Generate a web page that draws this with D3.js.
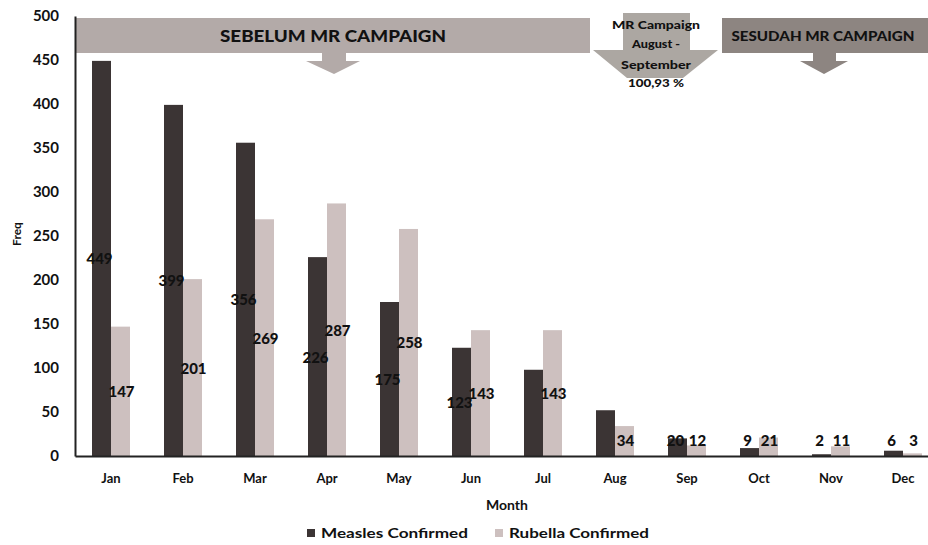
<!DOCTYPE html>
<html>
<head>
<meta charset="utf-8">
<script src="https://cdn.jsdelivr.net/npm/d3@7"></script>
<style>
  html, body { margin: 0; padding: 0; background: #fff; }
  svg { display: block; font-family: Lato, "Open Sans", sans-serif; }
</style>
</head>
<body>
<svg id="chart" width="928" height="545"></svg>
<script>
// Monthly confirmed cases
const months = ["Jan", "Feb", "Mar", "Apr", "May", "Jun", "Jul", "Aug", "Sep", "Oct", "Nov", "Dec"];
const measles = [449, 399, 356, 226, 175, 123, 98, 52, 20, 9, 2, 6];
const rubella = [147, 201, 269, 287, 258, 143, 143, 34, 12, 21, 11, 3];
// value labels printed on the bars (null = not printed)
const measlesLabels = [449, 399, 356, 226, 175, 123, null, null, 20, 9, 2, 6];
const rubellaLabels = [147, 201, 269, 287, 258, 143, 143, 34, 12, 21, 11, 3];
const seriesNames = ["Measles Confirmed", "Rubella Confirmed"];
const yTicks = [0, 50, 100, 150, 200, 250, 300, 350, 400, 450, 500];

const colors = { measles: "#3b3434", rubella: "#cdc0bf" };

const svg = d3.select("#chart");
const plotLeft = 75, plotTop = 16, plotBottom = 456;

const x = d3.scaleBand().domain(months).range([plotLeft, plotLeft + 72 * 12]).padding(0);
const xs = d3.scaleBand().domain(["m", "r"]).range([17, 55]).padding(0);
const y = d3.scaleLinear().domain([0, 500]).range([plotBottom, plotTop]);

// banners
const g0 = svg.append("g");
g0.append("rect").attr("x", 75).attr("y", 18).attr("width", 515).attr("height", 35).attr("fill", "#b3aaa8");
g0.append("path").attr("d", "M322,53 L346,53 L346,61 L360,61 L334,74 L306,61 L322,61 Z").attr("fill", "#b3aaa8");
g0.append("text").attr("x", 333).attr("y", 42).attr("text-anchor", "middle")
  .attr("font-weight", 900).attr("font-size", 16).attr("textLength", 226).attr("lengthAdjust", "spacingAndGlyphs")
  .attr("fill", "#111").text("SEBELUM MR CAMPAIGN");

g0.append("rect").attr("x", 722).attr("y", 18).attr("width", 206).attr("height", 35).attr("fill", "#8d8581");
g0.append("path").attr("d", "M813,53 L836,53 L836,61 L848,61 L824,74 L800,61 L813,61 Z").attr("fill", "#8d8581");
g0.append("text").attr("x", 823).attr("y", 41).attr("text-anchor", "middle")
  .attr("font-weight", 900).attr("font-size", 14).attr("textLength", 183).attr("lengthAdjust", "spacingAndGlyphs")
  .attr("fill", "#111").text("SESUDAH MR CAMPAIGN");

g0.append("path").attr("d", "M623,13 L690,13 L690,50 L718,50 L683,78 L627,78 L593,50 L623,50 Z").attr("fill", "#aca7a2");
const midLines = [["MR Campaign", 29, 88], ["August -", 48, 48], ["September", 69, 70], ["100,93 %", 87, 56]];
midLines.forEach(([t, yy, w]) => {
  g0.append("text").attr("x", 656).attr("y", yy).attr("text-anchor", "middle")
    .attr("font-weight", 900).attr("font-size", 12).attr("textLength", w).attr("lengthAdjust", "spacingAndGlyphs")
    .attr("fill", "#111").text(t);
});

// bars
const bars = svg.append("g");
months.forEach((m, i) => {
  bars.append("rect").attr("x", x(m) + xs("m")).attr("width", xs.bandwidth())
    .attr("y", y(measles[i])).attr("height", y(0) - y(measles[i])).attr("fill", colors.measles);
  bars.append("rect").attr("x", x(m) + xs("r")).attr("width", xs.bandwidth())
    .attr("y", y(rubella[i])).attr("height", y(0) - y(rubella[i])).attr("fill", colors.rubella);
});

// axes
const yAxis = d3.axisLeft(y).tickValues(yTicks).tickSize(0).tickPadding(16);
const ya = svg.append("g").attr("transform", `translate(${plotLeft},0)`).call(yAxis);
ya.select(".domain").attr("stroke", "#222").attr("stroke-width", 2);
ya.selectAll("text").attr("font-size", 15).attr("font-weight", 700).attr("fill", "#111").attr("font-family", "Lato");

const xAxis = d3.axisBottom(x).tickSize(0).tickPadding(18);
const xa = svg.append("g").attr("transform", `translate(0,${plotBottom})`).call(xAxis);
xa.select(".domain").attr("stroke", "#222").attr("stroke-width", 2);
xa.selectAll("text").attr("font-size", 13).attr("font-weight", 700).attr("fill", "#111").attr("font-family", "Lato");

// value labels: centred in the bar, lifted above very short bars
const labelY = v => Math.min(y(v / 2), y(0) - 16);
const lab = svg.append("g").attr("font-weight", 900).attr("font-size", 15).attr("fill", "#111")
  .attr("text-anchor", "middle").attr("dominant-baseline", "central");
months.forEach((m, i) => {
  if (measlesLabels[i] != null)
    lab.append("text").attr("x", x(m) + xs("m") + xs.bandwidth() / 2 - 2).attr("y", labelY(measles[i])).text(measlesLabels[i]);
  if (rubellaLabels[i] != null)
    lab.append("text").attr("x", x(m) + xs("r") + xs.bandwidth() / 2 + 1).attr("y", labelY(rubella[i])).text(rubellaLabels[i]);
});

// axis titles
svg.append("text").attr("x", 507).attr("y", 510).attr("text-anchor", "middle")
  .attr("font-size", 14).attr("font-weight", 700).attr("fill", "#111").text("Month");
svg.append("text").attr("transform", "translate(21,234) rotate(-90)").attr("text-anchor", "middle")
  .attr("font-size", 12).attr("font-weight", 700).attr("fill", "#111").text("Freq");

// legend
const leg = svg.append("g");
[[307, colors.measles, seriesNames[0], 147], [495, colors.rubella, seriesNames[1], 140]].forEach(([lx, c, t, w]) => {
  leg.append("rect").attr("x", lx).attr("y", 529).attr("width", 8).attr("height", 8).attr("fill", c);
  leg.append("text").attr("x", lx + 14).attr("y", 538).attr("font-size", 14).attr("font-weight", 700)
    .attr("textLength", w).attr("lengthAdjust", "spacingAndGlyphs")
    .attr("fill", "#111").text(t);
});
</script>
</body>
</html>
